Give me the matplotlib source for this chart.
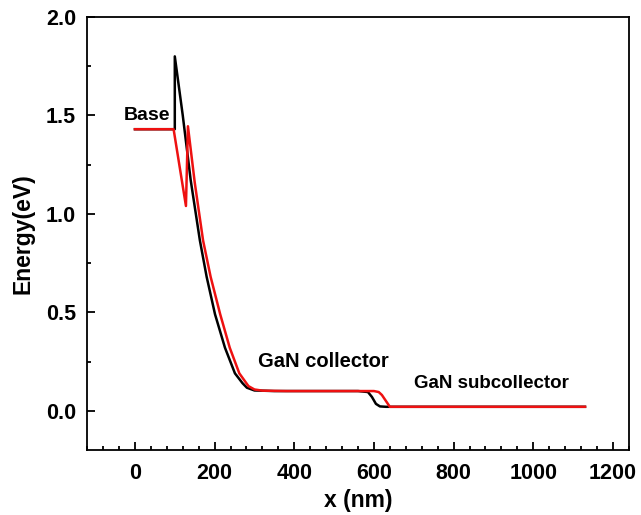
import numpy as np
import matplotlib.pyplot as plt
from matplotlib.ticker import MultipleLocator

plt.rcParams['font.family'] = ['Liberation Sans', 'DejaVu Sans']
plt.rcParams['font.weight'] = 'bold'

# conduction band profiles along the device (x in nm, energy in eV)
x_black = [0, 100, 100, 120, 140, 163, 180, 201, 226, 251, 270, 281, 300, 350,
           450, 560, 585, 595, 605, 615, 630, 800, 1000, 1130]
e_black = [1.43, 1.43, 1.80, 1.50, 1.17, 0.865, 0.68, 0.49, 0.32, 0.19, 0.14, 0.117,
           0.103, 0.10, 0.10, 0.10, 0.095, 0.07, 0.035, 0.022, 0.02, 0.02, 0.02, 0.02]

x_red = [0, 97, 128, 133, 150, 171, 190, 214, 238, 262, 285, 300, 320, 380,
         480, 580, 600, 612, 620, 640, 800, 1000, 1130]
e_red = [1.43, 1.43, 1.04, 1.445, 1.16, 0.865, 0.68, 0.49, 0.32, 0.19, 0.125, 0.108,
         0.102, 0.10, 0.10, 0.10, 0.10, 0.095, 0.08, 0.02, 0.02, 0.02, 0.02]

fig = plt.figure(figsize=(6.41, 5.15), dpi=100)
ax = fig.add_axes([0.136, 0.126, 0.845, 0.841])

ax.plot(x_black, e_black, color='black', lw=1.8)
ax.plot(x_red, e_red, color='#ee1111', lw=1.8)

ax.text(-28, 1.50, 'Base', fontsize=14, fontweight='bold', va='center')
ax.text(309, 0.25, 'GaN collector', fontsize=14.5, fontweight='bold', va='center')
ax.text(701, 0.137, 'GaN subcollector', fontsize=13.5, fontweight='bold', va='center')

ax.set_xlim(-120, 1240)
ax.set_ylim(-0.2, 2.0)
ax.xaxis.set_major_locator(MultipleLocator(200))
ax.xaxis.set_minor_locator(MultipleLocator(40))
ax.yaxis.set_major_locator(MultipleLocator(0.5))
ax.yaxis.set_minor_locator(MultipleLocator(0.25))
ax.yaxis.set_major_formatter(plt.FormatStrFormatter('%.1f'))
ax.tick_params(which='both', direction='in', top=False, right=False, width=1.3)
ax.tick_params(which='major', length=6, labelsize=15.5)
ax.tick_params(axis='x', which='major', pad=9)
ax.tick_params(axis='y', which='major', pad=8)
ax.tick_params(which='minor', length=3)
for s in ax.spines.values():
    s.set_linewidth(1.3)

ax.set_xlabel('x (nm)', fontsize=16.5, fontweight='bold', labelpad=4)
ax.set_ylabel('Energy(eV)', fontsize=16.5, fontweight='bold', labelpad=8)

fig.savefig('out.png', dpi=100)
